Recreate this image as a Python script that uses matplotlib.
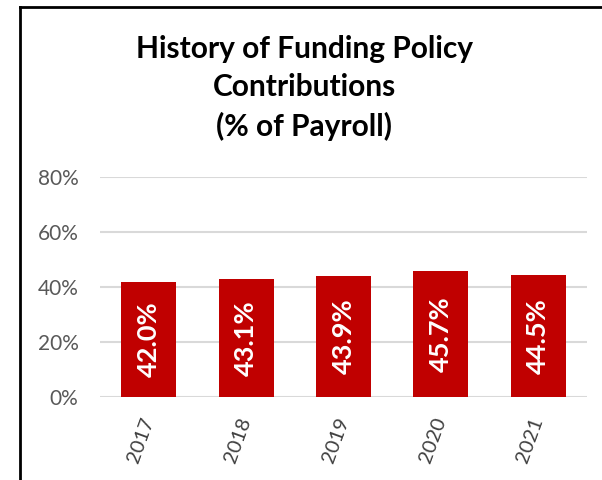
import matplotlib.pyplot as plt
from matplotlib.lines import Line2D
from matplotlib.ticker import FuncFormatter

years = ["2017", "2018", "2019", "2020", "2021"]
contrib_pct = [42.0, 43.1, 43.9, 45.7, 44.5]
y_ticks = [0, 20, 40, 60, 80]

BAR_RED = "#C00000"
GRID_GREY = "#D9D9D9"
TEXT_GREY = "#595959"
FONT = ["Lato", "DejaVu Sans"]


def main() -> None:
    plt.rcParams["font.family"] = FONT

    fig = plt.figure(figsize=(6.02, 4.8), dpi=100)
    ax = fig.add_axes([0.166, 0.173, 0.809, 0.458])

    x = range(len(years))
    bars = ax.bar(x, contrib_pct, width=0.565, color=BAR_RED, zorder=3)

    # Value labels inside bars, rotated.
    for rect, val in zip(bars, contrib_pct):
        ax.text(
            rect.get_x() + rect.get_width() / 2,
            val / 2,
            f"{val:.1f}%",
            rotation=90,
            ha="center",
            va="center",
            color="white",
            fontsize=19.5,
            fontweight="bold",
            zorder=4,
        )

    ax.set_ylim(0, 80)
    ax.set_xlim(-0.5, len(years) - 0.5)
    ax.set_yticks(y_ticks)
    ax.yaxis.set_major_formatter(FuncFormatter(lambda v, _: f"{v:.0f}%"))
    ax.grid(axis="y", color=GRID_GREY, linewidth=1.5, zorder=0)
    ax.set_axisbelow(True)

    ax.set_xticks(list(x))
    ax.set_xticklabels(years)
    plt.setp(
        ax.get_xticklabels(), rotation=70, ha="right", va="center",
        rotation_mode="anchor", fontsize=14.5, color="#404040",
    )
    ax.tick_params(axis="y", length=0, colors=TEXT_GREY, labelsize=15, pad=15.5)
    ax.tick_params(axis="x", length=0, pad=15)

    for side in ["top", "right", "left", "bottom"]:
        ax.spines[side].set_visible(False)

    fig.text(
        0.505, 0.817,
        "History of Funding Policy\nContributions\n(% of Payroll)",
        ha="center", va="center", fontsize=21.5, fontweight="bold",
        color="black", linespacing=1.45,
    )

    # Chart border (top and left edges visible in the crop).
    fig.add_artist(Line2D([20 / 602, 20 / 602], [0, 1 - 7 / 480],
                          transform=fig.transFigure, color="black", linewidth=2))
    fig.add_artist(Line2D([20 / 602, 1], [1 - 7 / 480, 1 - 7 / 480],
                          transform=fig.transFigure, color="black", linewidth=2))

    fig.savefig("out.png", dpi=100)


if __name__ == "__main__":
    main()
